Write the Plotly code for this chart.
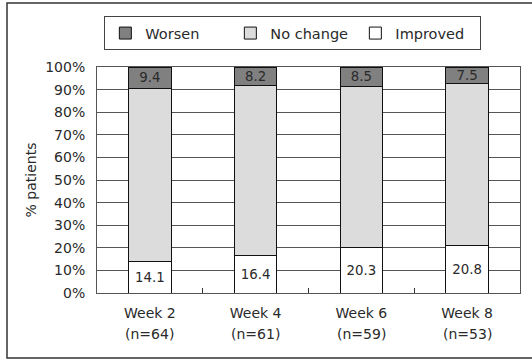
import plotly.graph_objects as go

categories = ["Week 2", "Week 4", "Week 6", "Week 8"]
n_labels = ["(n=64)", "(n=61)", "(n=59)", "(n=53)"]
improved = [14.1, 16.4, 20.3, 20.8]
worsen = [9.4, 8.2, 8.5, 7.5]
no_change = [round(100 - a - b, 1) for a, b in zip(improved, worsen)]
y_ticks = [0, 10, 20, 30, 40, 50, 60, 70, 80, 90, 100]
y_tick_labels = [f"{v}%" for v in y_ticks]

FONT = "DejaVu Sans"
TXT = "#2a2a2a"
fig = go.Figure()
line = dict(color="#111111", width=1)
fig.add_trace(go.Bar(name="Improved", x=categories, y=improved, marker=dict(color="#ffffff", line=line),
                     text=[f"{v:.1f}" for v in improved], textposition="inside", insidetextanchor="middle",
                     textfont=dict(color=TXT, size=14, family=FONT), width=0.4))
fig.add_trace(go.Bar(name="No change", x=categories, y=no_change, marker=dict(color="#dcdcdc", line=line),
                     width=0.4, hoverinfo="y"))
fig.add_trace(go.Bar(name="Worsen", x=categories, y=worsen, marker=dict(color="#808080", line=line),
                     text=[f"{v:.1f}" for v in worsen], textposition="inside", insidetextanchor="middle",
                     textfont=dict(color=TXT, size=14, family=FONT), width=0.4))

annotations = [dict(x=c, y=-41 / 226, xref="x", yref="paper", text=n, showarrow=False,
                    font=dict(size=14, family=FONT, color=TXT), yanchor="middle")
               for c, n in zip(categories, n_labels)]

fig.update_layout(
    barmode="stack",
    width=532, height=360,
    margin=dict(l=97, r=12, t=67, b=67),
    paper_bgcolor="white", plot_bgcolor="white",
    font=dict(family=FONT, size=14, color=TXT),
    uniformtext=dict(mode="show", minsize=12),
    legend=dict(orientation="h", traceorder="reversed", x=0.463, xanchor="center", y=1.225, yanchor="top",
                bordercolor="#444444", borderwidth=1, font=dict(size=14.5, family=FONT, color=TXT),
                entrywidth=80, itemwidth=30),
    xaxis=dict(showline=True, linecolor="#555555", mirror=True, ticks="inside", tickson="boundaries",
               ticklen=5, tickcolor="#333333", tickfont=dict(size=14), ticklabelstandoff=7),
    yaxis=dict(range=[0, 100], tickvals=y_ticks, ticktext=y_tick_labels, showgrid=True, gridcolor="#555555",
               showline=True, linecolor="#555555", mirror=True, ticks="", tickfont=dict(size=14),
               ticklabelstandoff=8,
               title=dict(text="% patients", font=dict(size=14), standoff=5)),
    annotations=annotations,
    shapes=[dict(type="rect", xref="paper", yref="paper", x0=-90 / 423, x1=443 / 423, y0=-65 / 226, y1=290 / 226,
                 line=dict(color="#333333", width=1.5), layer="below")],
)
fig.write_html("out.html")
